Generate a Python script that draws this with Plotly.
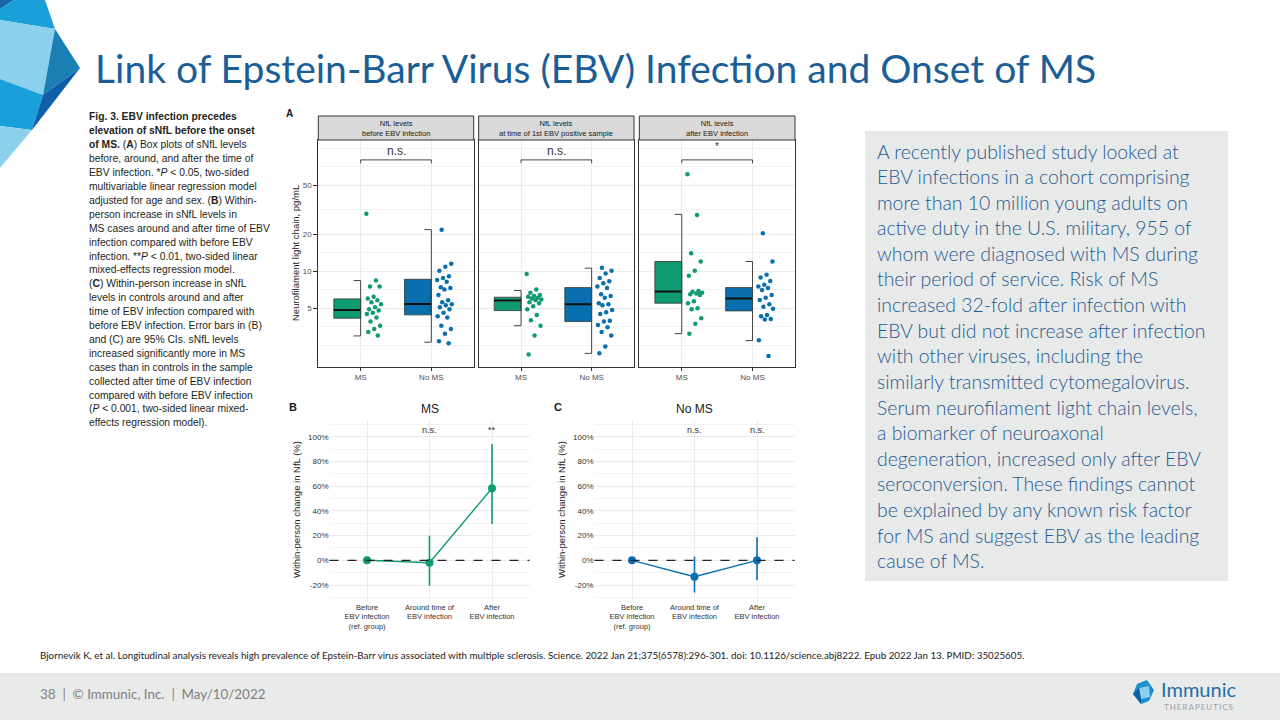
import plotly.graph_objects as go

W, H = 1280, 720


def px(x):
    return x / W


def py(y):
    return 1 - y / H


## ---------------- panel A : sNfL levels (pg/mL) ----------------
groups_A = ["MS", "No MS"]
facet_titles = ["NfL levels<br>before EBV infection",
                "NfL levels<br>at time of 1st EBV positive sample",
                "NfL levels<br>after EBV infection"]
facet_sig = ["n.s.", "n.s.", "*"]

## box stats: lower whisker, q1, median, q3, upper whisker
ms_before_box = [2.98, 4.15, 4.85, 5.96, 8.4]
noms_before_box = [2.65, 4.42, 5.42, 8.6, 21.8]
ms_time_box = [3.61, 4.79, 5.77, 6.15, 6.97]
noms_time_box = [2.15, 3.9, 5.39, 7.36, 10.6]
ms_after_box = [3.11, 5.5, 6.83, 12.0, 29.0]
noms_after_box = [2.73, 4.76, 6.0, 7.36, 12.0]

ms_before_pts = [29.4, 8.4, 7.5, 7.5, 6.2, 6.0, 5.8, 5.6, 5.4, 5.1, 4.9, 4.8, 4.6, 4.5, 4.2, 3.9, 3.6, 3.4, 3.2, 3.0]
noms_before_pts = [21.7, 11.5, 10.9, 10.1, 9.1, 8.8, 8.5, 8.2, 7.4, 7.3, 7.1, 6.4, 5.8, 5.6, 5.4, 5.3, 5.1, 4.9,
                   4.6, 4.3, 4.2, 3.6, 3.4, 3.1, 2.7, 2.6]
ms_time_pts = [9.5, 7.1, 6.7, 6.4, 6.3, 6.2, 6.1, 6.0, 5.9, 5.8, 5.6, 5.5, 5.2, 4.9, 4.4, 4.0, 3.6, 3.0, 2.1]
noms_time_pts = [10.7, 10.1, 9.6, 8.8, 8.3, 8.0, 7.5, 7.3, 6.5, 6.3, 6.1, 5.5, 5.4, 5.3, 4.85, 4.65, 4.5, 3.95,
                 3.9, 3.65, 3.5, 3.2, 3.0, 2.45, 2.15]
ms_after_pts = [61.5, 28.6, 14.0, 12.0, 10.1, 9.2, 6.9, 6.8, 6.7, 6.6, 6.5, 6.4, 5.7, 5.5, 5.0, 4.9, 4.15, 3.75, 3.1]
noms_after_pts = [20.4, 12.0, 9.35, 8.9, 8.35, 7.75, 7.5, 7.3, 7.05, 6.4, 6.1, 5.85, 5.4, 5.15, 4.95, 4.4, 4.3,
                  4.1, 4.05, 2.75, 2.05]

sig_bracket = [75.5, 80.4]   # tick end / bracket height
y_ticks_A = [5, 10, 20, 50]
y_minor_A = [2.5, 3.54, 7.07, 14.1, 31.6, 70.7, 100]

## ---------------- panels B / C : within-person change ----------------
time_labels = ["Before<br>EBV infection<br>(ref. group)", "Around time of<br>EBV infection", "After<br>EBV infection"]
ms_change = [0.0, -0.02, 0.583]
ms_ci_low = [0.0, -0.205, 0.294]
ms_ci_high = [0.0, 0.199, 0.941]
noms_change = [0.0, -0.133, 0.0]
noms_ci_low = [0.0, -0.26, -0.16]
noms_ci_high = [0.0, 0.029, 0.186]
ms_sig = ["", "n.s.", "**"]
noms_sig = ["", "n.s.", "n.s."]
pct_ticks = [-0.2, 0, 0.2, 0.4, 0.6, 0.8, 1.0]
pct_labels = ["-20%", "0%", "20%", "40%", "60%", "80%", "100%"]

GREEN = "#0f9b72"
BLUE = "#0a6fae"
TITLE_BLUE = "#1b5e96"
TEXT_BLUE = "#1f5a91"
GRID = "#ebebeb"

fig = go.Figure()
annotations = []
shapes = []
layout_axes = {}


def poly(points, color):
    d = "M " + " L ".join("%.5f %.5f" % (px(a), py(b)) for a, b in points) + " Z"
    return dict(type="path", path=d, xref="paper", yref="paper", fillcolor=color, line=dict(width=0), layer="above")


def note(x, y, text, size, color="#1a1a1a", xanchor="left", family="Liberation Sans", xref="paper", weight=None, **kw):
    font = dict(family=family, size=size, color=color)
    if weight:
        font["weight"] = weight
    annotations.append(dict(x=x, y=py(y), xref=xref, yref="paper", text=text, showarrow=False,
                            xanchor=xanchor, yanchor="middle", font=font, **kw))


## ---- panel A facets ----
facet_x = [(318.3, 473.7), (478.7, 634.0), (639.3, 795.0)]
A_top, A_bot = 140, 366.7
facet_boxes = [(ms_before_box, noms_before_box), (ms_time_box, noms_time_box), (ms_after_box, noms_after_box)]
facet_pts = [(ms_before_pts, noms_before_pts), (ms_time_pts, noms_time_pts), (ms_after_pts, noms_after_pts)]

for i in range(3):
    n = "" if i == 0 else str(i + 1)
    xa, ya = "x" + n, "y" + n
    l, r = facet_x[i]
    layout_axes["xaxis" + n] = dict(domain=[px(l), px(r)], anchor=ya, range=[0.4, 2.6], tickvals=[1, 2],
                                    ticktext=groups_A, ticks="outside", ticklen=3, tickcolor="#333",
                                    tickfont=dict(size=8, color="#4d4d4d"), showgrid=True, gridcolor=GRID,
                                    showline=True, mirror=True, linecolor="#333", linewidth=1, zeroline=False)
    layout_axes["yaxis" + n] = dict(domain=[py(A_bot), py(A_top)], anchor=xa, type="log", range=[0.224, 2.067],
                                    tickvals=y_ticks_A, ticktext=[str(v) for v in y_ticks_A],
                                    ticks="outside" if i == 0 else "", ticklen=4, tickcolor="#333",
                                    showticklabels=(i == 0), tickfont=dict(size=8, color="#4d4d4d"),
                                    showgrid=True, gridcolor=GRID,
                                    minor=dict(tickvals=y_minor_A, showgrid=True, gridcolor="#f3f3f3", gridwidth=0.6),
                                    showline=True, mirror=True, linecolor="#333", linewidth=1, zeroline=False)
    for g in range(2):
        c = g + 1
        lo, q1, med, q3, hi = facet_boxes[i][g]
        col = GREEN if g == 0 else BLUE
        fig.add_trace(go.Scatter(x=[c - 0.38, c, c, c - 0.38, c - 0.38], y=[q1, q1, q3, q3, q1], fill="toself",
                                 fillcolor=col, mode="lines", line=dict(color="#333", width=0.8),
                                 xaxis=xa, yaxis=ya, hoverinfo="skip"))
        fig.add_trace(go.Scatter(x=[c - 0.38, c], y=[med, med], mode="lines", line=dict(color="#111", width=2),
                                 xaxis=xa, yaxis=ya, hoverinfo="skip"))
        fig.add_trace(go.Scatter(x=[c - 0.1, c, c, c - 0.1], y=[hi, hi, lo, lo], mode="lines",
                                 line=dict(color="#444", width=1), xaxis=xa, yaxis=ya, hoverinfo="skip"))
        pts = facet_pts[i][g]
        # fixed (non random) jitter to the right of the box
        jit = [c + 0.08 + 0.22 * ((k * 0.618034 + 0.3 * g) % 1) for k in range(len(pts))]
        fig.add_trace(go.Scatter(x=jit, y=pts, mode="markers", marker=dict(size=4.5, color=col),
                                 xaxis=xa, yaxis=ya))
    fig.add_trace(go.Scatter(x=[1, 1, 2, 2], y=[sig_bracket[0], sig_bracket[1], sig_bracket[1], sig_bracket[0]],
                             mode="lines", line=dict(color="#444", width=1), xaxis=xa, yaxis=ya, hoverinfo="skip"))
    note(1.5, 151 if facet_sig[i] != "*" else 147, facet_sig[i], 12 if facet_sig[i] != "*" else 10,
         color="#333", xanchor="center", xref=xa)
    # facet strip
    shapes.append(dict(type="rect", xref="paper", yref="paper", x0=px(l), x1=px(r), y0=py(140), y1=py(116),
                       fillcolor="#d9d9d9", line=dict(color="#333", width=1)))
    note((l + r) / 2 / W, 128, facet_titles[i], 7.5, color="#1a1a1a", xanchor="center")

note(px(284), 113, "<b>A</b>", 10)
note(px(296), 253, "Neurofilament light chain, pg/mL", 9.5, color="#1a1a1a", xanchor="center", textangle=-90)

## ---- panels B and C ----
line_panels = [("4", (329.5, 529.5), "MS", ms_change, ms_ci_low, ms_ci_high, ms_sig, GREEN, "B", 287, 296),
               ("5", (594.5, 794.5), "No MS", noms_change, noms_ci_low, noms_ci_high, noms_sig, BLUE, "C", 552, 561)]
for n, (l, r), title, val, lo, hi, sig, col, letter, lx, tx in line_panels:
    xa, ya = "x" + n, "y" + n
    layout_axes["xaxis" + n] = dict(domain=[px(l), px(r)], anchor=ya, range=[-0.6, 2.6], tickvals=[0, 1, 2],
                                    ticktext=time_labels, tickfont=dict(size=7.5, color="#333"), ticks="",
                                    showgrid=True, gridcolor=GRID, zeroline=False, showline=False)
    layout_axes["yaxis" + n] = dict(domain=[py(601), py(420)], anchor=xa, range=[-0.329, 1.135],
                                    tickvals=pct_ticks, ticktext=pct_labels, tickfont=dict(size=8, color="#333"),
                                    ticks="", showgrid=True, gridcolor=GRID, zeroline=False, showline=False,
                                    minor=dict(dtick=0.1, tick0=0, showgrid=True, gridcolor="#f3f3f3", gridwidth=0.6))
    shapes.append(dict(type="line", xref=xa + " domain", yref=ya, x0=0, x1=1, y0=0, y1=0,
                       line=dict(color="#222", width=1.2, dash="dash")))
    fig.add_trace(go.Scatter(x=[0, 1, 2], y=val, mode="lines+markers", line=dict(color=col, width=1.4),
                             marker=dict(size=8, color=col),
                             error_y=dict(type="data", symmetric=False,
                                          array=[h - v for h, v in zip(hi, val)],
                                          arrayminus=[v - q for v, q in zip(val, lo)],
                                          width=0, thickness=1.6, color=col),
                             xaxis=xa, yaxis=ya))
    for k, s in enumerate(sig):
        if s:
            note(k, 430, s, 9, color="#333", xanchor="center", xref=xa)
    note((l + r) / 2 / W, 409, title, 12, color="#1a1a1a", xanchor="center")
    note(px(lx), 407, "<b>%s</b>" % letter, 11)
    note(px(tx), 510, "Within-person change in NfL (%)", 9.5, color="#1a1a1a", xanchor="center", textangle=-90)

## ---- figure caption (left) ----
caption = ["<b>Fig. 3. EBV infection precedes</b>",
           "<b>elevation of sNfL before the onset</b>",
           "<b>of MS.</b> (<b>A</b>) Box plots of sNfL levels",
           "before, around, and after the time of",
           "EBV infection. *<i>P</i> &lt; 0.05, two-sided",
           "multivariable linear regression model",
           "adjusted for age and sex. (<b>B</b>) Within-",
           "person increase in sNfL levels in",
           "MS cases around and after time of EBV",
           "infection compared with before EBV",
           "infection. **<i>P</i> &lt; 0.01, two-sided linear",
           "mixed-effects regression model.",
           "(<b>C</b>) Within-person increase in sNfL",
           "levels in controls around and after",
           "time of EBV infection compared with",
           "before EBV infection. Error bars in (B)",
           "and (C) are 95% CIs. sNfL levels",
           "increased significantly more in MS",
           "cases than in controls in the sample",
           "collected after time of EBV infection",
           "compared with before EBV infection",
           "(<i>P</i> &lt; 0.001, two-sided linear mixed-",
           "effects regression model)."]
for k, line in enumerate(caption):
    note(px(87), 117 + k * 13.9, line, 10.3, color="#231f20")

## ---- summary text box (right) ----
summary = ["A recently published study looked at",
           "EBV infections in a cohort comprising",
           "more than 10 million young adults on",
           "active duty in the U.S. military, 955 of",
           "whom were diagnosed with MS during",
           "their period of service. Risk of MS",
           "increased 32-fold after infection with",
           "EBV but did not increase after infection",
           "with other viruses, including the",
           "similarly transmitted cytomegalovirus.",
           "Serum neurofilament light chain levels,",
           "a biomarker of neuroaxonal",
           "degeneration, increased only after EBV",
           "seroconversion. These findings cannot",
           "be explained by any known risk factor",
           "for MS and suggest EBV as the leading",
           "cause of MS."]
shapes.append(dict(type="rect", xref="paper", yref="paper", x0=px(865), x1=px(1228), y0=py(581), y1=py(131),
                   fillcolor="#e8e9e9", line=dict(width=0), layer="below"))
for k, line in enumerate(summary):
    note(px(875), 151 + k * 25.6, line, 19.4, color=TEXT_BLUE, family="Lato", weight=300)

## ---- slide chrome ----
note(px(93), 68, "Link of Epstein-Barr Virus (EBV) Infection and Onset of MS", 39, color=TITLE_BLUE, family="Lato")
note(px(38), 655, "Bjornevik K, et al. Longitudinal analysis reveals high prevalence of Epstein-Barr virus associated "
                  "with multiple sclerosis. Science. 2022 Jan 21;375(6578):296-301. doi: 10.1126/science.abj8222. "
                  "Epub 2022 Jan 13. PMID: 35025605.", 9.8, color="#1a1a1a", family="Lato")
shapes.append(dict(type="rect", xref="paper", yref="paper", x0=0, x1=1, y0=0, y1=py(673),
                   fillcolor="#e9eaea", line=dict(width=0), layer="below"))
note(px(38), 694, "38  |  © Immunic, Inc.  |  May/10/2022", 13.4, color="#7f7f7f", family="Lato")
note(px(1159), 689, "Immunic", 20, color="#1d6fa5", family="Lato")
note(px(1162), 707, "T\u2009H\u2009E\u2009R\u2009A\u2009P\u2009E\u2009U\u2009T\u2009I\u2009C\u2009S", 8,
     color="#9aa0a6", family="Lato")

## top-left gem decoration
shapes += [poly([(0, 0), (14, 0), (0, 9)], "#1567a8"),
           poly([(0, 9), (14, 0), (45, 0), (55, 29), (0, 20)], "#1aa0d8"),
           poly([(0, 20), (55, 29), (43, 95), (0, 79)], "#8dd0ec"),
           poly([(0, 79), (43, 95), (32, 130), (0, 126)], "#1aa0d8"),
           poly([(0, 126), (32, 130), (0, 168)], "#8dd0ec"),
           poly([(55, 29), (80, 68), (43, 95)], "#1a7fb2"),
           poly([(43, 95), (80, 68), (32, 130)], "#0f5ea6")]
## bottom-right logo mark
shapes += [poly([(1137, 684), (1147, 680), (1154, 690), (1149, 701), (1141, 704), (1133, 694)], "#1b8fcc"),
           poly([(1139, 688), (1149, 686), (1150, 697), (1141, 699)], "#8dd0ec"),
           poly([(1133, 694), (1139, 688), (1141, 699), (1141, 704)], "#0f5ea6")]

fig.update_layout(width=W, height=H, margin=dict(l=0, r=0, t=0, b=0), autosize=False,
                  paper_bgcolor="white", plot_bgcolor="white", showlegend=False,
                  font=dict(family="Liberation Sans", color="#333"),
                  annotations=annotations, shapes=shapes, **layout_axes)

fig.write_html("out.html", config={"displayModeBar": False},
               post_script="document.body.style.margin='0px';")
